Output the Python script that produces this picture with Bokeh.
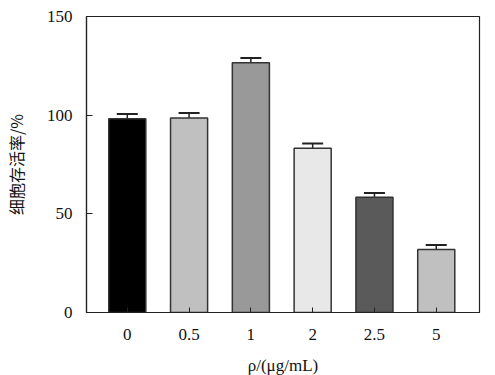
import numpy as np
from bokeh.plotting import figure
from bokeh.models import ColumnDataSource, FixedTicker, Whisker, TeeHead, Range1d
from bokeh.embed import file_html
from bokeh.resources import INLINE

categories = ["0", "0.5", "1", "2", "2.5", "5"]
values = [98.2, 98.6, 126.5, 83.2, 58.4, 31.9]
errors = [2.4, 2.5, 2.5, 2.4, 2.2, 2.3]
colors = ["#000000", "#c0c0c0", "#999999", "#e8e8e8", "#5a5a5a", "#c0c0c0"]
y_ticks = [0, 50, 100, 150]

xpos = list(range(1, len(categories) + 1))
src = ColumnDataSource(dict(
    x=xpos, top=values, color=colors,
    upper=[v + e for v, e in zip(values, errors)],
))

p = figure(frame_width=393, frame_height=296, output_backend="svg", toolbar_location=None,
           x_range=Range1d(0.34, 6.7), y_range=Range1d(0, 150),
           min_border_left=83, min_border_top=16, min_border_right=6, min_border_bottom=52)

p.vbar(x="x", top="top", width=0.6, bottom=0, fill_color="color",
       line_color="#333333", line_width=1.5, source=src)

wh = Whisker(base="x", lower="top", upper="upper", source=src,
             line_color="#222222", line_width=1.5,
             upper_head=TeeHead(size=21, line_color="#222222", line_width=2),
             lower_head=None)
p.add_layout(wh)

p.grid.visible = False
p.outline_line_color = "#222222"
p.outline_line_width = 1.2
p.background_fill_color = "white"
p.border_fill_color = "white"

font = "Liberation Serif"
xa = p.xaxis[0]
xa.ticker = FixedTicker(ticks=xpos)
xa.major_label_overrides = {i: c for i, c in zip(xpos, categories)}
xa.major_tick_in = 5
xa.major_tick_out = 0
xa.minor_tick_line_color = None
xa.axis_line_color = "#222222"
xa.axis_line_width = 1.2
xa.major_tick_line_color = "#222222"
xa.major_label_text_font = font
xa.major_label_text_font_size = "17px"
xa.major_label_text_color = "#111111"
xa.major_label_standoff = 16
xa.axis_label = "ρ/(μg/mL)"
xa.axis_label_text_font = font
xa.axis_label_text_font_style = "normal"
xa.axis_label_text_font_size = "17px"
xa.axis_label_text_color = "#111111"
xa.axis_label_standoff = 13

ya = p.yaxis[0]
ya.ticker = FixedTicker(ticks=y_ticks)
ya.major_tick_in = 6
ya.major_tick_out = 0
ya.minor_tick_line_color = None
ya.axis_line_color = "#222222"
ya.axis_line_width = 1.2
ya.major_tick_line_color = "#222222"
ya.major_label_text_font = font
ya.major_label_text_font_size = "17px"
ya.major_label_text_color = "#111111"
ya.major_label_standoff = 14
ya.axis_label = "细胞存活率/%"
ya.axis_label_text_font = "Noto Sans CJK SC"
ya.axis_label_text_font_style = "normal"
ya.axis_label_text_font_size = "16px"
ya.axis_label_text_color = "#111111"
ya.axis_label_standoff = 16

open("out.html", "w").write(file_html(p, INLINE))
